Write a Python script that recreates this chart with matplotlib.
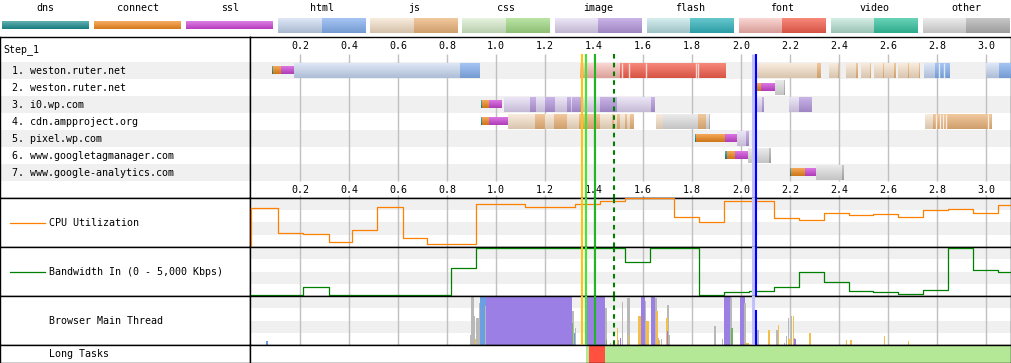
import matplotlib
matplotlib.use("Agg")
import numpy as np
import matplotlib.pyplot as plt
from matplotlib.colors import to_rgb

plt.rcParams["font.family"] = ["DejaVu Sans Mono"]
plt.rcParams["font.size"] = 7.2

W, H = 1012, 363

# ---------------- data ----------------
legend_names = ["dns", "connect", "ssl", "html", "js", "css", "image", "flash", "font", "video", "other"]
conn_colors = {"dns": "#1d8d91", "connect": "#f28a1e", "ssl": "#cf48d8"}
wait_colors = {"html": "#c2d3ee", "js": "#f2dcc2", "css": "#d2eac6", "image": "#dcd0ee",
               "flash": "#b4dde1", "font": "#f5b3ad", "video": "#b0dece", "other": "#dadada"}
recv_colors = {"html": "#86b1ef", "js": "#ecb57c", "css": "#a3da86", "image": "#b699de",
               "flash": "#33b3bd", "font": "#f4604e", "video": "#35c39f", "other": "#b3b3b3"}

row_names = ["weston.ruter.net", "weston.ruter.net", "i0.wp.com", "cdn.ampproject.org",
             "pixel.wp.com", "www.googletagmanager.com", "www.google-analytics.com"]

# (row, start s, end s, phase)
conn_segments = [
    (0, 0.086, 0.090, "dns"), (0, 0.090, 0.122, "connect"), (0, 0.122, 0.176, "ssl"),
    (1, 2.048, 2.080, "connect"), (1, 2.080, 2.139, "ssl"),
    (2, 0.939, 0.943, "dns"), (2, 0.943, 0.971, "connect"), (2, 0.971, 1.024, "ssl"),
    (3, 0.939, 0.943, "dns"), (3, 0.943, 0.971, "connect"), (3, 0.971, 1.053, "ssl"),
    (4, 1.812, 1.816, "dns"), (4, 1.816, 1.935, "connect"), (4, 1.935, 1.982, "ssl"),
    (5, 1.935, 1.942, "dns"), (5, 1.942, 1.976, "connect"), (5, 1.976, 2.033, "ssl"),
    (6, 2.200, 2.204, "dns"), (6, 2.204, 2.261, "connect"), (6, 2.261, 2.309, "ssl"),
]

# (row, start s, end s, content type, w = waiting / r = receiving)
req_segments = [
    (0, 0.176, 0.853, "html", "w"), (0, 0.853, 0.931, "html", "r"),
    (0, 1.343, 1.506, "font", "w"), (0, 1.506, 1.935, "font", "r"),
    (0, 2.057, 2.312, "js", "w"), (0, 2.312, 2.327, "js", "r"),
    (0, 2.359, 2.396, "js", "w"), (0, 2.396, 2.400, "js", "r"),
    (0, 2.429, 2.469, "js", "w"), (0, 2.469, 2.476, "js", "r"),
    (0, 2.490, 2.527, "js", "w"), (0, 2.527, 2.531, "js", "r"),
    (0, 2.543, 2.580, "js", "w"), (0, 2.580, 2.585, "js", "r"),
    (0, 2.585, 2.624, "js", "w"), (0, 2.624, 2.629, "js", "r"),
    (0, 2.641, 2.682, "js", "w"), (0, 2.682, 2.687, "js", "r"),
    (0, 2.687, 2.727, "js", "w"), (0, 2.727, 2.731, "js", "r"),
    (0, 2.747, 2.792, "html", "w"), (0, 2.792, 2.853, "html", "r"),
    (0, 3.000, 3.053, "html", "w"), (0, 3.053, 3.110, "html", "r"),
    (1, 2.139, 2.176, "other", "w"), (1, 2.176, 2.180, "other", "r"),
    (2, 1.033, 1.139, "image", "w"), (2, 1.139, 1.163, "image", "r"),
    (2, 1.163, 1.200, "image", "w"), (2, 1.200, 1.241, "image", "r"),
    (2, 1.241, 1.290, "image", "w"), (2, 1.290, 1.306, "image", "r"),
    (2, 1.306, 1.310, "image", "w"), (2, 1.310, 1.355, "image", "r"),
    (2, 1.355, 1.424, "image", "w"), (2, 1.424, 1.494, "image", "r"),
    (2, 1.494, 1.633, "image", "w"), (2, 1.633, 1.649, "image", "r"),
    (2, 2.048, 2.084, "image", "w"), (2, 2.084, 2.090, "image", "r"),
    (2, 2.196, 2.237, "image", "w"), (2, 2.237, 2.286, "image", "r"),
    (3, 1.049, 1.159, "js", "w"), (3, 1.159, 1.200, "js", "r"),
    (3, 1.200, 1.237, "js", "w"), (3, 1.237, 1.290, "js", "r"),
    (3, 1.290, 1.339, "js", "w"), (3, 1.339, 1.424, "js", "r"),
    (3, 1.424, 1.473, "js", "w"), (3, 1.473, 1.482, "js", "r"),
    (3, 1.482, 1.494, "js", "w"), (3, 1.494, 1.506, "js", "r"),
    (3, 1.506, 1.527, "js", "w"), (3, 1.527, 1.535, "js", "r"),
    (3, 1.535, 1.547, "js", "w"), (3, 1.547, 1.563, "js", "r"),
    (3, 1.653, 1.682, "js", "w"), (3, 1.682, 1.824, "other", "w"),
    (3, 1.824, 1.857, "js", "r"), (3, 1.857, 1.869, "other", "w"), (3, 1.869, 1.873, "other", "r"),
    (3, 2.751, 2.784, "js", "w"), (3, 2.784, 3.024, "js", "r"),
    (4, 1.982, 2.020, "image", "w"), (4, 2.020, 2.029, "image", "r"),
    (5, 2.029, 2.114, "other", "w"), (5, 2.114, 2.122, "other", "r"),
    (6, 2.306, 2.411, "other", "w"), (6, 2.411, 2.416, "other", "r"),
]

# data chunk boundaries inside receiving bars
chunk_lines = [(0, 1.513, "font"), (0, 1.544, "font"), (0, 1.611, "font"), (0, 1.818, "font"),
               (0, 1.825, "font"), (0, 2.808, "html"), (0, 2.829, "html"),
               (3, 2.796, "js"), (3, 2.812, "js"), (3, 2.823, "js"), (3, 2.837, "js"), (3, 3.010, "js")]

tick_times = [0.2, 0.4, 0.6, 0.8, 1.0, 1.2, 1.4, 1.6, 1.8, 2.0, 2.2, 2.4, 2.6, 2.8, 3.0]
t_lo, t_hi = -0.002, 3.102

# page markers (start render, dom content, interactive, onload, ...)
marker_times = [1.351, 1.367, 1.404, 1.480, 2.049, 2.061]
marker_colors = ["#ffc40f", "#44e62a", "#22b522", "#007f00", "#c0c0ff", "#0000ff"]

cpu_edges = [0, 0.111, 0.214, 0.317, 0.414, 0.516, 0.619, 0.720, 0.920, 1.120, 1.324, 1.426,
             1.528, 1.728, 1.830, 1.932, 2.136, 2.238, 2.340, 2.439, 2.540, 2.642, 2.744,
             2.843, 2.945, 3.047, 3.102]
cpu_values = [79, 28, 26, 9.5, 35, 81, 18, 5.5, 87, 81, 87, 92, 98, 61, 51, 92.5, 58.5, 55,
              69, 65, 67, 61, 75, 77, 69, 85]

bw_edges = [0, 0.214, 0.317, 0.818, 0.920, 1.528, 1.630, 1.830, 1.932, 2.034, 2.136, 2.238,
            2.340, 2.439, 2.540, 2.642, 2.744, 2.843, 2.945, 3.047, 3.102]
bw_values = [0, 815, 0, 2834, 5000, 3472, 5000, 0, 283, 422, 847, 2409, 1346, 390, 283, 134,
             496, 4960, 2622, 2409]

thread_colors = {"script": "#f2c04a", "layout": "#9b7fe5", "paint": "#6fb35f",
                 "parse": "#6c9fe2", "other": "#b8b8b8"}
# (start s, end s, activity, share of slice)
thread_bars = [
    (0.061, 0.069, "parse", 0.08),
    (0.892, 0.898, "other", 0.2), (0.898, 0.910, "other", 1.0), (0.910, 0.914, "other", 0.6),
    (0.915, 0.919, "script", 0.12), (0.918, 0.931, "other", 0.55), (0.931, 0.935, "other", 0.85),
    (0.935, 0.959, "parse", 1.0), (0.955, 0.961, "other", 0.8),
    (0.959, 1.310, "layout", 1.0),
    (1.310, 1.318, "other", 0.7), (1.312, 1.316, "paint", 0.45), (1.318, 1.322, "parse", 0.25),
    (1.322, 1.327, "other", 0.35),
    (1.363, 1.371, "layout", 0.8), (1.371, 1.445, "layout", 1.0),
    (1.445, 1.453, "other", 0.75), (1.449, 1.453, "paint", 0.1),
    (1.465, 1.469, "other", 0.05), (1.478, 1.486, "other", 0.1),
    (1.494, 1.499, "script", 0.35), (1.499, 1.502, "other", 0.1), (1.506, 1.510, "layout", 0.14),
    (1.513, 1.518, "other", 0.87), (1.533, 1.547, "other", 0.95), (1.539, 1.543, "script", 0.2),
    (1.581, 1.592, "script", 0.6), (1.592, 1.609, "layout", 1.0), (1.609, 1.614, "other", 0.9),
    (1.612, 1.623, "script", 0.5), (1.631, 1.651, "layout", 1.0), (1.651, 1.658, "other", 0.95),
    (1.652, 1.660, "script", 0.7), (1.661, 1.666, "other", 0.15), (1.664, 1.668, "script", 0.1),
    (1.672, 1.677, "other", 0.12), (1.697, 1.707, "other", 0.82), (1.695, 1.702, "script", 0.55),
    (1.698, 1.702, "layout", 0.28), (1.707, 1.712, "other", 0.2),
    (1.890, 1.898, "other", 0.38), (1.922, 1.928, "other", 0.12),
    (1.931, 1.958, "layout", 1.0), (1.956, 1.963, "other", 0.95), (1.958, 1.966, "paint", 0.35),
    (1.996, 2.016, "layout", 1.0), (2.012, 2.020, "other", 0.85), (2.020, 2.031, "script", 0.04),
    (2.054, 2.064, "script", 0.65), (2.064, 2.072, "other", 0.3), (2.111, 2.120, "script", 0.3),
    (2.143, 2.150, "other", 0.3), (2.150, 2.156, "script", 0.4), (2.176, 2.181, "other", 0.05),
    (2.184, 2.189, "other", 0.18), (2.192, 2.196, "other", 0.55), (2.193, 2.199, "script", 0.12),
    (2.203, 2.207, "other", 0.6), (2.200, 2.204, "script", 0.15), (2.211, 2.216, "script", 0.6),
    (2.216, 2.220, "other", 0.15), (2.216, 2.224, "layout", 0.12), (2.278, 2.284, "script", 0.25),
    (2.429, 2.433, "script", 0.11), (2.445, 2.453, "script", 0.11), (2.584, 2.588, "script", 0.19),
    (2.680, 2.686, "script", 0.09),
]

long_starts = [1.367, 1.380, 1.445]
long_ends = [1.380, 1.445, 3.102]
long_kinds = ["ok", "long", "ok"]
long_colors = {"ok": "#b4e896", "long": "#ff5040"}


# ---------------- helpers ----------------
def grad_img(color, top_mix, bot_mix, n=16):
    c = np.array(to_rgb(color))
    top = c + (1 - c) * top_mix
    bot = c * (1 - bot_mix)
    f = np.linspace(0, 1, n)[:, None]
    return (top * (1 - f) + bot * f)[:, None, :]


def gbar(ax, x0, x1, y0, y1, color, top_mix=0.3, bot_mix=0.12, z=3):
    ax.imshow(grad_img(color, top_mix, bot_mix), extent=(x0, x1, y1, y0),
              aspect="auto", interpolation="bilinear", zorder=z)


def px_axes(fig, x0, y0, x1, y1):
    ax = fig.add_axes([x0 / W, 1 - y1 / H, (x1 - x0) / W, (y1 - y0) / H])
    ax.set_xticks([])
    ax.set_yticks([])
    for s in ax.spines.values():
        s.set_linewidth(1.0)
        s.set_color("black")
    return ax


def bands(ax):
    lo, hi = ax.get_ylim()
    span = hi - lo
    ax.axhspan(lo + 0.75 * span, hi, color="#f0f0f0", lw=0, zorder=0)
    ax.axhspan(lo + 0.25 * span, lo + 0.5 * span, color="#f0f0f0", lw=0, zorder=0)


fig = plt.figure(figsize=(W / 100, H / 100), dpi=100)

# ---------------- legend ----------------
lg = fig.add_axes([0, 1 - 36 / H, 1, 36 / H])
lg.set_axis_off()
for k, name in enumerate(legend_names):
    x0 = 2 + k * 92.1
    lg.text(x0 + 43.5, 8, name, ha="center", va="center")
    if name in conn_colors:
        gbar(lg, x0, x0 + 87, 21.7, 29, conn_colors[name])
    else:
        gbar(lg, x0, x0 + 43.5, 17.7, 32.7, wait_colors[name], 0.45, 0.12)
        gbar(lg, x0 + 43.5, x0 + 87, 17.7, 32.7, recv_colors[name], 0.25, 0.12)
lg.set_xlim(0, W)
lg.set_ylim(36, 0)

# ---------------- waterfall ----------------
wf_top, wf_bot = -1.471, 7.97
lab = px_axes(fig, 0.5, 37, 250.5, 197.5)
wf = px_axes(fig, 250.5, 37, 1011, 197.5)
for r in range(0, 7, 2):
    lab.axhspan(r, r + 1, color="#f0f0f0", lw=0, zorder=0)
    wf.axhspan(r, r + 1, color="#f0f0f0", lw=0, zorder=0)
lab.text(3, -0.72, "Step_1", ha="left", va="center")
for i, name in enumerate(row_names):
    lab.text(12, i + 0.52, f"{i + 1}. {name}", ha="left", va="center")
lab.set_xlim(0, 250)
lab.set_ylim(wf_bot, wf_top)

for t in tick_times:
    wf.text(t, -0.94, f"{t:.1f}", ha="center", va="center")
    wf.text(t, 7.53, f"{t:.1f}", ha="center", va="center")
wf.vlines(tick_times, -0.47, 7.0, color="#c0c0c0", lw=1.0, zorder=1)
wf.vlines(tick_times, 7.8, wf_bot, color="#c0c0c0", lw=1.0, zorder=1)

for row, t0, t1, kind in conn_segments:
    gbar(wf, t0, t1, row + 0.29, row + 0.71, conn_colors[kind], 0.25, 0.15)
for row, t0, t1, ctype, part in req_segments:
    if part == "w":
        gbar(wf, t0, t1, row + 0.06, row + 0.94, wait_colors[ctype], 0.45, 0.1)
    else:
        gbar(wf, t0, t1, row + 0.06, row + 0.94, recv_colors[ctype], 0.25, 0.12)
for row, t, ctype in chunk_lines:
    c = np.array(to_rgb(wait_colors[ctype]))
    wf.vlines(t, row + 0.06, row + 0.94, color=c + (1 - c) * 0.5, lw=1.0, zorder=4)

# ---------------- panels ----------------
cpu_lab = px_axes(fig, 0.5, 197.5, 250.5, 247)
cpu = px_axes(fig, 250.5, 197.5, 1011, 247)
bw_lab = px_axes(fig, 0.5, 247, 250.5, 296)
bw = px_axes(fig, 250.5, 247, 1011, 296)
mt_lab = px_axes(fig, 0.5, 296, 250.5, 345)
mt = px_axes(fig, 250.5, 296, 1011, 345)
lt_lab = px_axes(fig, 0.5, 345, 250.5, 362.5)
lt = px_axes(fig, 250.5, 345, 1011, 362.5)

for ax, y0, y1 in [(cpu_lab, 197.5, 247), (bw_lab, 247, 296), (mt_lab, 296, 345), (lt_lab, 345, 362.5)]:
    ax.set_xlim(0, 250)
    ax.set_ylim(y1, y0)
cpu_lab.plot([10, 45], [222.5, 222.5], color="#ff8000", lw=0.9)
cpu_lab.text(49, 223, "CPU Utilization", ha="left", va="center")
bw_lab.plot([10, 45], [271.5, 271.5], color="#008000", lw=0.9)
bw_lab.text(49, 272, "Bandwidth In (0 - 5,000 Kbps)", ha="left", va="center")
mt_lab.text(49, 321, "Browser Main Thread", ha="left", va="center")
lt_lab.text(49, 354, "Long Tasks", ha="left", va="center")

cpu.set_ylim(0, 100)
bw.set_ylim(-110, 5100)
mt.set_ylim(0, 1)
lt.set_ylim(0, 1)
for ax in (cpu, bw, mt):
    bands(ax)
    ax.vlines(tick_times, *ax.get_ylim(), color="#c0c0c0", lw=1.0, zorder=1)

cpu.step([0] + cpu_edges, [0] + cpu_values + [cpu_values[-1]], where="post",
         color="#ff8000", lw=0.9, zorder=3)
bw.step(bw_edges, bw_values + [bw_values[-1]], where="post", color="#008000", lw=0.9, zorder=3)

for t0, t1, kind, h in thread_bars:
    mt.bar(t0, h, width=t1 - t0, align="edge", color=thread_colors[kind], lw=0, zorder=2)

for t0, t1, kind in zip(long_starts, long_ends, long_kinds):
    lt.axvspan(t0, t1, color=long_colors[kind], lw=0)

# ---------------- markers ----------------
for t, c in zip(marker_times, marker_colors):
    lw = 2.2 if c == "#c0c0ff" else 1.5
    ls = (0, (2.2, 2.0)) if c == "#007f00" else "-"
    wf.vlines(t, -0.47, wf_bot, color=c, lw=lw, ls=ls, zorder=6)
    for ax in (cpu, bw, mt):
        top = 0.7 if (ax is mt and c == "#0000ff") else 1.0
        ax.axvline(t, ymin=0, ymax=top, color=c, lw=lw, ls=ls, zorder=6)

for ax in (wf, cpu, bw, mt, lt):
    ax.set_xlim(t_lo, t_hi)
wf.set_ylim(wf_bot, wf_top)
cpu.set_ylim(0, 100)
bw.set_ylim(-110, 5100)
mt.set_ylim(0, 1)
lt.set_ylim(0, 1)

fig.savefig("out.png", dpi=100)
